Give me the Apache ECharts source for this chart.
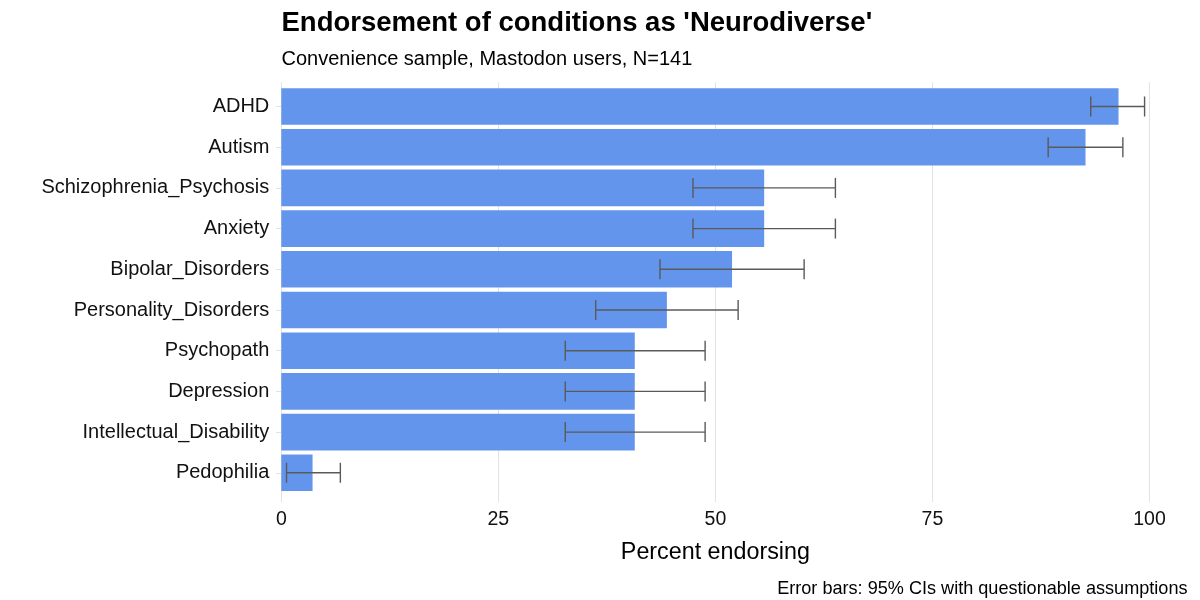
<!DOCTYPE html>
<html>
<head>
<meta charset="utf-8">
<script src="https://cdn.jsdelivr.net/npm/echarts@6/dist/echarts.min.js"></script>
<style>
html,body{margin:0;padding:0;background:#fff;}
#chart{width:1200px;height:600px;}
</style>
</head>
<body>
<div id="chart"></div>
<script>
const categories = ['ADHD','Autism','Schizophrenia_Psychosis','Anxiety','Bipolar_Disorders','Personality_Disorders','Psychopath','Depression','Intellectual_Disability','Pedophilia'];
const percent = [96.4, 92.6, 55.6, 55.6, 51.9, 44.4, 40.7, 40.7, 40.7, 3.6];
const lower   = [93.2, 88.3, 47.4, 47.4, 43.6, 36.2, 32.7, 32.7, 32.7, 0.6];
const upper   = [99.4, 96.9, 63.8, 63.8, 60.2, 52.6, 48.8, 48.8, 48.8, 6.8];
const xTicks = [0, 25, 50, 75, 100];

const titleText = "Endorsement of conditions as 'Neurodiverse'";
const subtitleText = 'Convenience sample, Mastodon users, N=141';
const xTitleText = 'Percent endorsing';
const captionText = 'Error bars: 95% CIs with questionable assumptions';

const FONT = "'Liberation Sans', Arial, sans-serif";
const GRID_COLOR = '#e2e2e2';

const chart = echarts.init(document.getElementById('chart'), null, {renderer: 'canvas'});

const errData = categories.map((c, i) => [i, lower[i], upper[i]]);

const option = {
  backgroundColor: '#fff',
  animation: false,
  textStyle: {fontFamily: FONT},
  grid: [
    {left: 281.3, top: 86.15, width: 906.7, height: 407, containLabel: false},
    {left: 281.3, top: 82.1, width: 868.2, height: 415.1, containLabel: false}
  ],
  xAxis: [
    {gridIndex: 0, type: 'value', min: 0, max: 104.4, show: false},
    {gridIndex: 1, type: 'value', min: xTicks[0], max: xTicks[xTicks.length - 1], interval: 25,
      axisLine: {show: false},
      axisTick: {show: true, length: 5, lineStyle: {color: GRID_COLOR, width: 1}},
      splitLine: {show: true, lineStyle: {color: GRID_COLOR, width: 1}},
      axisLabel: {fontSize: 19.5, color: '#111', margin: 10, fontFamily: FONT, padding: [2, 0, 0, 0]}
    }
  ],
  yAxis: [
    {gridIndex: 0, type: 'category', data: categories, inverse: true,
      axisLine: {show: false},
      axisTick: {show: true, alignWithLabel: true, length: 5, lineStyle: {color: GRID_COLOR, width: 1}},
      splitLine: {show: false},
      axisLabel: {fontSize: 20, color: '#111', margin: 12, fontFamily: FONT, padding: [5, 0, 0, 0]}
    },
    {gridIndex: 1, type: 'value', min: 0, max: 1, show: false}
  ],
  series: [
    {
      type: 'bar', xAxisIndex: 0, yAxisIndex: 0,
      data: percent,
      barCategoryGap: '10%',
      itemStyle: {color: '#6495ED'},
      z: 2
    },
    {
      type: 'custom', xAxisIndex: 0, yAxisIndex: 0,
      data: errData,
      encode: {x: [1, 2], y: 0},
      z: 3,
      renderItem: function (params, api) {
        const ci = api.value(0);
        const lo = api.coord([api.value(1), ci]);
        const hi = api.coord([api.value(2), ci]);
        const h = 10;
        const st = {stroke: '#5a5a5a', lineWidth: 1.4};
        return {
          type: 'group',
          children: [
            {type: 'line', shape: {x1: lo[0], y1: lo[1], x2: hi[0], y2: hi[1]}, style: st},
            {type: 'line', shape: {x1: lo[0], y1: lo[1] - h, x2: lo[0], y2: lo[1] + h}, style: st},
            {type: 'line', shape: {x1: hi[0], y1: hi[1] - h, x2: hi[0], y2: hi[1] + h}, style: st}
          ]
        };
      }
    }
  ],
  graphic: [
    {type: 'text', x: 281.5, y: 23.5, style: {text: titleText, fill: '#000', font: 'bold 27.5px ' + FONT, align: 'left', verticalAlign: 'middle', textAlign: 'left', textVerticalAlign: 'middle'}},
    {type: 'text', x: 281.5, y: 59.5, style: {text: subtitleText, fill: '#000', font: '20px ' + FONT, align: 'left', verticalAlign: 'middle', textAlign: 'left', textVerticalAlign: 'middle'}},
    {type: 'text', x: 715.4, y: 552.5, style: {text: xTitleText, fill: '#000', font: '23.3px ' + FONT, align: 'center', verticalAlign: 'middle', textAlign: 'center', textVerticalAlign: 'middle'}},
    {type: 'text', x: 1187.5, y: 588.5, style: {text: captionText, fill: '#000', font: '18.1px ' + FONT, align: 'right', verticalAlign: 'middle', textAlign: 'right', textVerticalAlign: 'middle'}}
  ]
};

chart.setOption(option);
</script>
</body>
</html>
